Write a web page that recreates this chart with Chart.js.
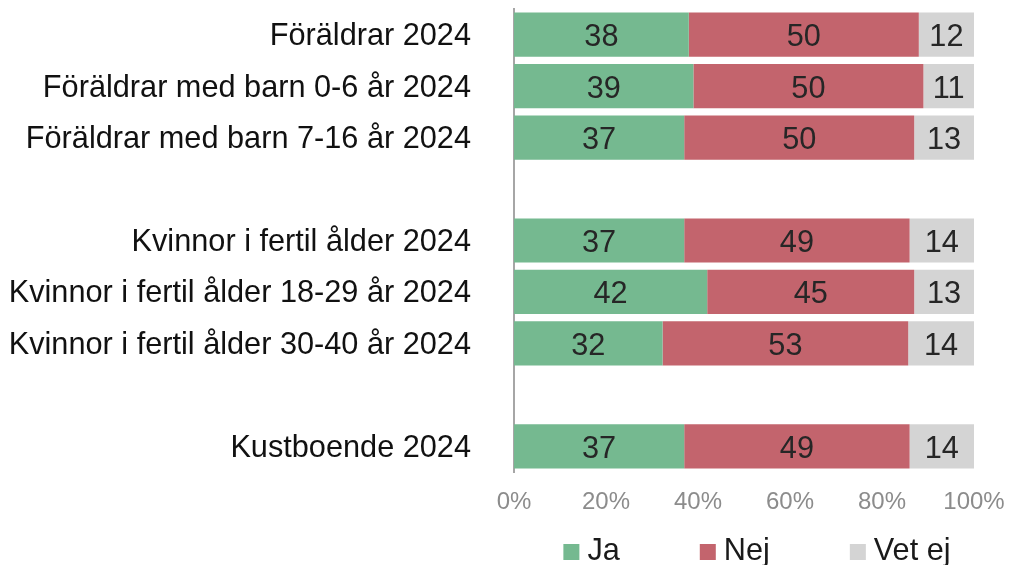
<!DOCTYPE html>
<html>
<head>
<meta charset="utf-8">
<script src="https://cdn.jsdelivr.net/npm/chart.js@4/dist/chart.umd.min.js"></script>
<style>
    html, body { margin: 0; padding: 0; background: #fff; }
    #wrap { width: 1011px; height: 565px; }
</style>
</head>
<body>
<div id="wrap"><canvas id="survey-chart"></canvas></div>
<script>
// Categories (empty strings are the spacer rows between groups)
const categories = [
    "Föräldrar 2024",
    "Föräldrar med barn 0-6 år 2024",
    "Föräldrar med barn 7-16 år 2024",
    "",
    "Kvinnor i fertil ålder 2024",
    "Kvinnor i fertil ålder 18-29 år 2024",
    "Kvinnor i fertil ålder 30-40 år 2024",
    "",
    "Kustboende 2024",
];

// Percent shares; labels show them rounded
const ja    = [38, 39, 37, null, 37, 42, 32.3, null, 37];
const nej   = [50, 50, 50, null, 49, 45, 53.4, null, 49];
const vetEj = [12, 11, 13, null, 14, 13, 14.3, null, 14];

const xTicks = [0, 20, 40, 60, 80, 100];

const FONT = "'Liberation Sans', Arial, sans-serif";

/*--------------------------------------------------------------
| Value labels centred in each segment
--------------------------------------------------------------*/
const segmentLabels = {
    id: "segmentLabels",
    afterDatasetsDraw(chart) {
        const ctx = chart.ctx;
        ctx.save();
        ctx.font = "30.7px " + FONT;
        ctx.fillStyle = "#262626";
        ctx.textAlign = "center";
        ctx.textBaseline = "middle";
        chart.data.datasets.forEach((ds, i) => {
            chart.getDatasetMeta(i).data.forEach((bar, j) => {
                const v = ds.data[j];
                if (v === null || v === undefined) return;
                const p = bar.getProps(["x", "y", "base"], true);
                ctx.fillText(String(Math.round(v)), (p.x + p.base) / 2, p.y + 3);
            });
        });
        ctx.restore();
    },
};

/*--------------------------------------------------------------
| Legend drawn under the plot, centred like the original
--------------------------------------------------------------*/
const bottomLegend = {
    id: "bottomLegend",
    afterDraw(chart) {
        const ctx = chart.ctx;
        const box = 16, gap = 8, spacing = 80;
        ctx.save();
        ctx.font = "30.7px " + FONT;
        const items = chart.data.datasets.map(ds => ({
            text: ds.label,
            color: ds.backgroundColor,
            w: box + gap + ctx.measureText(ds.label).width,
        }));
        const total = items.reduce((s, it) => s + it.w, 0) + spacing * (items.length - 1);
        const area = chart.chartArea;
        let x = (area.left + area.right) / 2 + 13 - total / 2;
        const y = 552;
        items.forEach(it => {
            ctx.fillStyle = it.color;
            ctx.fillRect(x, y - 8, box, box);
            ctx.fillStyle = "#1a1a1a";
            ctx.textAlign = "left";
            ctx.textBaseline = "middle";
            ctx.fillText(it.text, x + box + gap, y);
            x += it.w + spacing;
        });
        ctx.restore();
    },
};

function surveyChart() {
    const el = document.getElementById("survey-chart");
    if (!el) return;

    const config = {
        type: "bar",
        data: {
            labels: categories,
            datasets: [
                { label: "Ja", data: ja, backgroundColor: "#75b990" },
                { label: "Nej", data: nej, backgroundColor: "#c3646d" },
                { label: "Vet ej", data: vetEj, backgroundColor: "#d4d4d4" },
            ],
        },
        options: {
            indexAxis: "y",
            responsive: true,
            maintainAspectRatio: false,
            animation: false,
            layout: { padding: { top: 9, right: 37, bottom: 0, left: 0 } },
            datasets: {
                bar: { barPercentage: 0.86, categoryPercentage: 1, borderWidth: 0 },
            },
            plugins: {
                legend: { display: false },
                tooltip: { enabled: true },
            },
            scales: {
                x: {
                    stacked: true,
                    min: 0,
                    max: 100,
                    afterBuildTicks: s => { s.ticks = xTicks.map(v => ({ value: v })); },
                    afterFit: s => { s.height = 93; s.paddingLeft = 0; s.paddingRight = 0; },
                    grid: { display: false, drawTicks: false },
                    border: { display: false },
                    ticks: {
                        padding: 16,
                        color: "#8c8c8c",
                        font: { family: FONT, size: 24 },
                        callback: v => v + "%",
                    },
                },
                y: {
                    stacked: true,
                    // fixed width, and no extra top/bottom room from the label padding
                    afterFit: s => { s.width = 514; s.paddingTop = 0; s.paddingBottom = 0; },
                    grid: { display: false, drawTicks: false },
                    border: { display: true, color: "#a6a6a6", width: 2 },
                    ticks: {
                        padding: 43,
                        labelOffset: 2,
                        color: "#111111",
                        font: { family: FONT, size: 30.7 },
                        autoSkip: false,
                    },
                },
            },
        },
        plugins: [segmentLabels, bottomLegend],
    };

    new Chart(el.getContext("2d"), config);
}

document.addEventListener("DOMContentLoaded", surveyChart);
</script>
</body>
</html>
